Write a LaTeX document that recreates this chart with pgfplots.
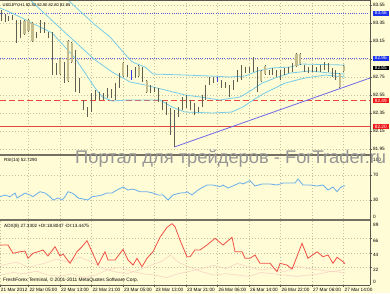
\documentclass[border=0pt]{standalone}
\usepackage{pgfplots}
\pgfplotsset{compat=1.18}
\usepackage{pgfplotstable}
\usepackage{fontspec}
\setmainfont{Liberation Sans}
\definecolor{bg}{RGB}{255,252,214}
\definecolor{barcol}{RGB}{95,95,84}
\definecolor{tancol}{RGB}{196,188,140}
\definecolor{bluebar}{RGB}{60,60,235}
\definecolor{bandcol}{RGB}{120,205,232}
\definecolor{trendcol}{RGB}{110,105,230}
\definecolor{lvlblue}{RGB}{90,90,230}
\definecolor{lvlred}{RGB}{235,70,60}
\definecolor{rsicol}{RGB}{105,175,235}
\definecolor{adxcol}{RGB}{240,80,70}
\definecolor{dicol}{RGB}{250,212,196}
\definecolor{gridcol}{RGB}{195,192,160}
\definecolor{sepcol}{RGB}{115,112,100}
\definecolor{axcol}{RGB}{90,88,80}
\definecolor{wmcol}{RGB}{150,150,150}
\definecolor{boxblue}{RGB}{30,50,235}
\definecolor{boxred}{RGB}{240,25,25}
\newcommand\tl{\fontsize{4.7}{5}\selectfont}

\pgfplotstableread{
i h l t
1 83.494 83.372 0
2 83.450 83.361 0
3 83.428 83.372 0
4 83.439 83.383 0
5 83.383 83.128 0
6 83.383 83.183 0
7 83.383 83.217 1
8 83.394 83.250 1
9 83.361 83.139 1
10 83.250 83.183 0
11 83.383 83.239 0
12 83.361 83.239 0
13 83.250 83.183 0
14 83.250 82.772 0
15 82.906 82.772 0
16 82.961 82.772 1
17 82.917 82.683 0
18 83.161 82.695 1
19 83.139 82.906 1
20 83.050 82.583 0
21 82.739 82.572 0
22 82.494 82.383 0
23 82.417 82.306 0
24 82.572 82.361 0
25 82.606 82.494 0
26 82.583 82.494 0
27 82.572 82.494 0
28 82.628 82.517 0
29 82.617 82.517 0
30 82.683 82.494 0
31 82.794 82.628 0
32 82.917 82.750 1
33 82.883 82.750 0
34 82.828 82.717 2
35 82.861 82.739 0
36 82.883 82.750 1
37 82.861 82.695 0
38 82.717 82.572 1
39 82.661 82.572 0
40 82.639 82.583 0
41 82.628 82.472 0
42 82.494 82.383 0
43 82.472 82.328 0
44 82.406 82.106 0
45 82.383 81.972 0
46 82.417 82.306 0
47 82.528 82.383 0
48 82.550 82.406 0
49 82.494 82.383 0
50 82.461 82.328 0
51 82.417 82.361 0
52 82.550 82.417 0
53 82.661 82.494 0
54 82.750 82.661 0
55 82.750 82.683 0
56 82.750 82.695 2
57 82.717 82.628 0
58 82.695 82.628 0
59 82.661 82.528 0
60 82.717 82.606 0
61 82.828 82.695 0
62 82.883 82.717 0
63 82.861 82.794 0
64 82.861 82.794 0
65 82.972 82.806 0
66 82.861 82.583 0
67 82.828 82.695 1
68 82.883 82.772 1
69 82.828 82.772 0
70 82.850 82.772 0
71 82.828 82.750 0
72 82.828 82.717 0
73 82.850 82.772 0
74 82.861 82.794 0
75 82.906 82.806 0
76 83.017 82.861 1
77 83.017 82.883 1
78 82.883 82.806 0
79 82.861 82.794 0
80 82.883 82.806 0
81 82.861 82.806 0
82 82.883 82.806 0
83 82.917 82.828 0
84 82.906 82.806 0
85 82.850 82.750 0
86 82.828 82.717 0
87 82.794 82.628 1
88 82.883 82.806 1
}\bars

\pgfplotsset{mt/.style={
  scale only axis, width=370pt,
  xmin=0.761, xmax=94.67,
  axis line style={draw=none},
  xtick={8,16,24,32,40,48,56,64,72,80,88},
  xticklabels={},
  xmajorgrids, ymajorgrids,
  major grid style={gridcol, dash pattern=on 0.7pt off 2.3pt, line width=0.5pt},
  ytick pos=right, yticklabel pos=right,
  tick align=outside, major tick length=2.2pt,
  tick style={axcol, line width=0.5pt},
  xtick style={draw=none},
  yticklabel style={font=\tl, inner sep=0pt, anchor=west, xshift=0.6pt},
  /pgf/number format/assume math mode=true,
  clip mode=individual,
}}

\begin{document}
\begin{tikzpicture}[x=1pt,y=1pt]
\fill[bg] (0,0) rectangle (390,-293);
\useasboundingbox (0,0) rectangle (390,-293);

% ---------------- price panel ----------------
\begin{axis}[mt, at={(0pt,0pt)}, anchor=north west, height=154pt,
  ymin=81.8944, ymax=83.6056,
  ytick={81.95,82.15,82.35,82.55,82.75,82.95,83.15,83.35,83.55},
  yticklabels={81.95,82.15,82.35,82.55,82.75,{},83.15,83.35,83.55},
]
% level lines
\addplot[lvlblue, line width=0.6pt, dash pattern=on 0.8pt off 1.4pt] coordinates {(0.761,83.46) (94.67,83.46)};
\addplot[lvlblue, line width=0.6pt, dash pattern=on 0.8pt off 1.4pt] coordinates {(0.761,82.96) (94.67,82.96)};
\addplot[lvlred, line width=0.6pt, dash pattern=on 6pt off 3pt] coordinates {(0.761,82.49) (94.67,82.49)};
\addplot[lvlred, line width=0.6pt] coordinates {(0.761,82.20) (94.67,82.20)};
% bands
\addplot[bandcol, line width=0.8pt] coordinates {(0.8,84.106) (18.0,83.606) (24.9,83.328) (28.7,83.195) (32.0,83.028) (34.3,82.917) (37.6,82.861) (39.6,82.783) (47.7,82.772) (54.1,82.761) (59.1,82.750) (62.9,82.761) (66.2,82.817) (69.8,82.850) (74.4,82.861) (77.4,82.894) (88.3,82.883)};
\addplot[bandcol, line width=0.8pt] coordinates {(0.8,83.883) (8.4,83.606) (16.0,83.295) (24.9,82.939) (29.2,82.806) (33.8,82.695) (37.6,82.661) (40.6,82.628) (47.7,82.550) (51.5,82.528) (56.6,82.494) (61.7,82.528) (64.7,82.606) (67.3,82.683) (70.6,82.739) (74.4,82.794) (79.4,82.817) (84.5,82.794) (88.3,82.783)};
\addplot[bandcol, line width=0.8pt] coordinates {(0.8,83.517) (3.8,83.461) (14.0,83.239) (19.8,82.961) (24.9,82.628) (26.7,82.528) (29.2,82.483) (33.0,82.494) (41.4,82.494) (44.4,82.417) (47.7,82.361) (54.8,82.350) (59.6,82.361) (62.4,82.417) (65.0,82.494) (67.5,82.561) (70.6,82.628) (73.1,82.683) (78.2,82.739) (83.3,82.772) (88.3,82.750)};
% trend line
\addplot[trendcol, line width=0.8pt] coordinates {(45,81.972) (94.67,82.739)};
% wicks
\addplot[draw=none, mark=none, restrict expr to domain={\thisrow{t}}{0:1},
  error bars/.cd, y dir=plus, y explicit, error mark=none,
  error bar style={draw=barcol, solid, line width=0.75pt}]
  table[x=i, y=l, y error expr=\thisrow{h}-\thisrow{l}] {\bars};
\addplot[draw=none, mark=none, restrict expr to domain={\thisrow{t}}{2:2},
  error bars/.cd, y dir=plus, y explicit, error mark=none,
  error bar style={draw=bluebar, solid, line width=0.75pt}]
  table[x=i, y=l, y error expr=\thisrow{h}-\thisrow{l}] {\bars};
% tan bodies
\addplot[draw=none, mark=none, restrict expr to domain={\thisrow{t}}{1:1},
  error bars/.cd, y dir=plus, y explicit, error mark=none,
  error bar style={draw=tancol, solid, line width=2.2pt}]
  table[x=i, y expr=\thisrow{l}+0.012, y error expr=\thisrow{h}-\thisrow{l}-0.024] {\bars};
\coordinate (B1) at (axis cs:94.67,83.46);
\coordinate (B2) at (axis cs:94.67,82.96);
\coordinate (B3) at (axis cs:94.67,82.85);
\coordinate (B4) at (axis cs:94.67,82.49);
\coordinate (B5) at (axis cs:94.67,82.20);
\end{axis}

% ---------------- RSI panel ----------------
\begin{axis}[mt, at={(0pt,-156pt)}, anchor=north west, height=63pt,
  ymin=-0.4, ymax=100.4,
  ytick={30,70}, yticklabels={30,70},
]
\addplot[rsicol, line width=0.8pt] coordinates {
(0.76,35.3) (2.03,38.0) (3.30,35.3) (4.57,41.2) (5.08,33.2) (6.35,38.0) (7.11,41.2) (8.38,38.0) (9.14,35.3) (10.41,41.2) (10.91,43.3) (12.18,41.2) (13.45,35.3) (14.21,30.0) (15.48,33.2) (16.50,30.0) (17.26,35.3) (18.02,43.3) (19.04,41.2) (19.80,38.0) (20.56,33.2) (21.83,31.6) (23.10,30.0) (24.11,35.3) (25.38,36.4) (26.65,38.0) (27.92,41.2) (29.19,41.2) (30.46,46.0) (31.98,50.8) (33.25,46.0) (34.52,47.6) (36.29,43.3) (38.07,43.3) (39.59,41.2) (40.86,38.0) (42.13,38.0) (43.40,30.0) (44.67,38.0) (46.45,41.2) (47.72,41.7) (48.22,43.3) (49.49,38.0) (51.02,46.0) (53.30,54.0) (54.82,54.0) (56.60,51.3) (57.36,54.0) (58.63,49.2) (60.41,54.0) (61.68,57.7) (62.44,55.6) (64.21,60.9) (65.48,52.4) (67.26,55.6) (69.29,55.6) (71.07,54.0) (72.59,57.2) (74.37,57.2) (75.63,57.2) (76.40,63.6) (77.66,54.0) (79.44,54.0) (81.22,52.4) (82.74,54.0) (84.01,46.0) (85.28,50.8) (86.29,43.3) (87.06,49.2) (87.82,52.4) (88.32,52.7)};
\end{axis}

% ---------------- ADX panel ----------------
\begin{axis}[mt, at={(0pt,-221pt)}, anchor=north west, height=64pt,
  ymin=-5.42, ymax=93.65,
  ytick={22.25,44.5,66.75}, yticklabels={22,44,66},
  yticklabel style={yshift=-2.5pt},
  xtick={0.761,8,16,24,32,40,48,56,64,72,80,88},
  xticklabels={21 Mar 2012,22 Mar 05:00,22 Mar 13:00,22 Mar 21:00,23 Mar 05:00,23 Mar 13:00,23 Mar 21:00,26 Mar 06:00,26 Mar 14:00,26 Mar 22:00,27 Mar 06:00,27 Mar 14:00},
  xtick pos=bottom, xtick style={draw=axcol},
  xticklabel style={font=\tl, anchor=north west, inner sep=0pt, xshift=0.8pt, yshift=-0.8pt},
]
\addplot[dicol, line width=0.6pt] coordinates {(1,25) (5,30) (8,22) (12,28) (15,35) (18,30) (21,38) (24,30) (27,20) (30,15) (33,12) (36,18) (39,25) (42,32) (44,41) (46,30) (49,22) (52,15) (55,10) (58,12) (61,10) (64,8) (67,14) (70,12) (73,10) (76,8) (79,10) (82,12) (85,16) (88.32,13.4)};
\addplot[dicol, line width=0.6pt] coordinates {(1,10) (4,14) (7,12) (10,16) (13,10) (16,8) (19,12) (22,6) (25,10) (28,18) (31,22) (34,16) (37,12) (40,10) (43,6) (46,12) (49,16) (52,20) (55,25) (58,20) (61,28) (64,22) (67,18) (70,20) (73,15) (76,24) (79,20) (82,18) (85,15) (88.32,18.8)};
\addplot[adxcol, line width=0.8pt] coordinates {
(0.76,56.5) (2.79,56.5) (4.06,43.7) (5.84,46.1) (7.11,47.2) (7.87,35.9) (9.14,43.7) (10.41,46.1) (11.68,48.8) (12.94,39.5) (14.72,53.9) (15.99,39.5) (16.75,42.6) (18.53,28.2) (20.30,46.1) (21.57,53.9) (22.84,63.2) (24.11,46.1) (25.63,25.5) (27.41,46.1) (28.17,33.3) (29.95,33.3) (31.98,49.8) (33.25,33.3) (34.52,25.5) (35.53,35.9) (36.80,22.9) (38.07,35.9) (39.59,46.1) (41.37,68.4) (43.15,83.9) (44.42,89.5) (45.18,84.8) (46.45,64.2) (48.2,38.4) (49.0,38.4) (50.25,48.8) (51.52,48.8) (53.30,56.5) (55.33,66.9) (57.36,56.5) (59.64,68.4) (60.41,46.1) (62.18,46.1) (62.94,35.9) (64.21,35.9) (65.48,41.0) (66.75,28.2) (69.29,28.2) (71.07,15.2) (71.83,28.2) (73.60,25.5) (74.87,19.3) (75.63,30.7) (77.41,59.1) (78.93,35.9) (81.22,46.1) (82.74,38.4) (84.01,41.0) (85.28,28.2) (86.29,37.5) (87.82,30.7) (88.32,27.3)};
\end{axis}

% frame and separators
\draw[axcol, line width=0.6pt] (0,-0.3) -- (370,-0.3);
\fill[sepcol] (0,-153.6) rectangle (370,-155.8);
\fill[sepcol] (0,-219) rectangle (370,-221);
\draw[axcol, line width=0.8pt] (370,0) -- (370,-285);
\draw[axcol, line width=0.8pt] (0,-285) -- (370.4,-285);

% price boxes
\node[fill=boxblue, text=white, font=\tl, inner xsep=2.2pt, inner ysep=0.8pt, anchor=west] at ([xshift=2.5pt]B1) {83.46};
\node[fill=boxblue, text=white, font=\tl, inner xsep=2.2pt, inner ysep=0.8pt, anchor=west] at ([xshift=2.5pt]B2) {82.96};
\node[fill=black, text=white, font=\tl, inner xsep=2.2pt, inner ysep=0.8pt, anchor=west] at ([xshift=2.5pt]B3) {82.85};
\node[fill=boxred, text=white, font=\tl, inner xsep=2.2pt, inner ysep=0.8pt, anchor=west] at ([xshift=2.5pt]B4) {82.49};
\node[fill=boxred, text=white, font=\tl, inner xsep=2.2pt, inner ysep=0.8pt, anchor=west] at ([xshift=2.5pt]B5) {82.20};

% edge labels of the indicator scales
\node[font=\tl, anchor=west, inner sep=0pt] at (373,-159.5) {100};
\node[font=\tl, anchor=west, inner sep=0pt] at (373,-216.5) {0};
\node[font=\tl, anchor=west, inner sep=0pt] at (373,-224.5) {89};
\node[font=\tl, anchor=west, inner sep=0pt] at (373,-281.5) {0};

% titles
\node[font=\fontsize{4.1}{5}\selectfont, anchor=west, inner sep=0pt] at (2.5,-5) {USDJPY,H1 82.82 82.90 82.80 82.85};
\node[font=\fontsize{4.5}{5}\selectfont, anchor=west, inner sep=0pt] at (4,-160.7) {RSI(14) 52.7290};
\node[font=\fontsize{4.6}{5}\selectfont, anchor=west, inner sep=0pt] at (4,-226) {ADX(8) 27.3302 +DI:18.8047 -DI:13.4475};
\node[font=\fontsize{4.8}{5}\selectfont, anchor=west, inner sep=0pt] at (3,-280) {FreshForex Terminal, © 2001-2011 MetaQuotes Software Corp.};

% watermark
\node[anchor=base west, inner sep=0pt, text=wmcol] at (75,-163) {\resizebox{311pt}{!}{\fontsize{15}{15}\selectfont Портал для трейдеров - ForTrader.ru}};
\end{tikzpicture}
\end{document}
